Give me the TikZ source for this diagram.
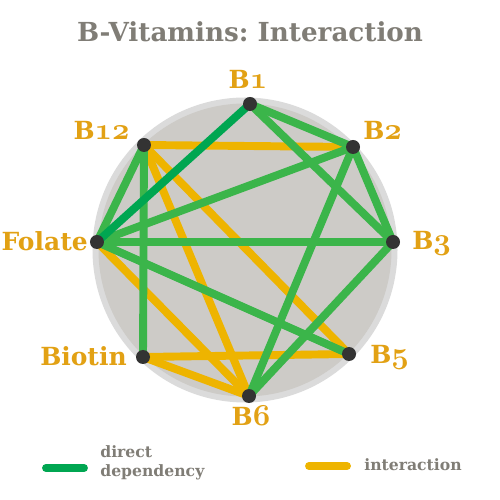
\documentclass[tikz,border=0pt]{standalone}
\usepackage{fontspec}
\setmainfont{DejaVu Serif}
\usepackage{xcolor}
\usepackage{tikz}
\usepackage{tkz-euclide}
\definecolor{vitorange}{HTML}{E2A114}
\definecolor{titlegray}{HTML}{807D76}
\definecolor{linkgreen}{HTML}{3BB54A}
\definecolor{depgreen}{HTML}{00A651}
\definecolor{intyellow}{HTML}{EEB400}
\definecolor{diskgray}{HTML}{CDCBC7}
\definecolor{ringgray}{HTML}{DBDBDB}
\definecolor{dotgray}{HTML}{333333}
\newcommand{\vnum}[1]{{\fontencoding{OML}\fontfamily{cmm}\fontseries{b}\fontshape{it}\fontsize{17.28}{18}\selectfont #1}}
\frenchspacing

\begin{document}
\begin{tikzpicture}[
	linkline/.style={color=linkgreen,line width=4.5pt},
	depline/.style={color=depgreen,line width=4.5pt},
	interline/.style={color=intyellow,line width=4.5pt},
	vitlabel/.style={text=vitorange,inner sep=0pt,font=\fontsize{14.2}{16}\selectfont\bfseries},
	legtext/.style={text=titlegray,inner sep=0pt,font=\fontsize{8.9}{10.8}\selectfont\bfseries}]
		\useasboundingbox (-4.9,-5) rectangle (5.1,5);
		\fill[ringgray] (0,0) circle (3.05);
		\fill[diskgray] (0,0) circle (2.93);
		\tkzDefPoint(0.10,2.92){B1}
		\tkzDefPoint(2.16,2.06){B2}
		\tkzDefPoint(2.96,0.16){B3}
		\tkzDefPoint(2.08,-2.08){B5}
		\tkzDefPoint(0.08,-2.92){B6}
		\tkzDefPoint(-2.04,-2.14){Biotin}
		\tkzDefPoint(-2.96,0.16){Folate}
		\tkzDefPoint(-2.02,2.10){B12}
		\tkzDrawSegments[interline](B12,B2 B12,B6 B12,B5 Folate,B6 Biotin,B5 Biotin,B6)
		\tkzDrawSegments[linkline](B1,B2 B1,B3 B2,B3 B2,Folate B2,B6 B3,Folate B3,B6 B12,Folate B12,Biotin Folate,B5)
		\tkzDrawSegment[depline](B1,Folate)
		\foreach \p in {B1,B2,B3,B5,B6,Biotin,Folate,B12}
			\fill[dotgray] (\p) circle (0.14);
		\node[vitlabel,anchor=base] (lB1) at (0.06,3.22) {B\vnum{1}};
		\node[vitlabel,anchor=base west] (lB2) at (2.36,2.20) {B\vnum{2}};
		\node[vitlabel,anchor=base west] (lB3) at (3.34,0) {B\vnum{3}};
		\node[vitlabel,anchor=base west] (lB5) at (2.50,-2.26) {B\vnum{5}};
		\node[vitlabel,anchor=base] (lB6) at (0.12,-3.50) {B\vnum{6}};
		\node[vitlabel,anchor=base east] (lBiotin) at (-2.36,-2.30) {Biotin};
		\node[vitlabel,anchor=base east] (lFolate) at (-3.14,-0.02) {Folate};
		\node[vitlabel,anchor=base east] (lB12) at (-2.30,2.20) {B\vnum{12}};
		\node[text=titlegray,anchor=base,font=\fontsize{14.9}{17}\selectfont\bfseries] (title) at (0.10,4.16) {B-Vitamins: Interaction};
		\tkzDefPoint(-3.98,-4.36){depA}
		\tkzDefPoint(-3.22,-4.36){depB}
		\tkzDefPoint(1.28,-4.32){intA}
		\tkzDefPoint(2.04,-4.32){intB}
		\tkzDrawSegment[depline,line cap=round](depA,depB)
		\tkzDrawSegment[interline,line cap=round](intA,intB)
		\node[legtext,anchor=west,align=left] (legdep) at (-2.90,-4.25) {direct\\dependency};
		\node[legtext,anchor=base west] (legint) at (2.38,-4.40) {interaction};
	\end{tikzpicture}
\end{document}
